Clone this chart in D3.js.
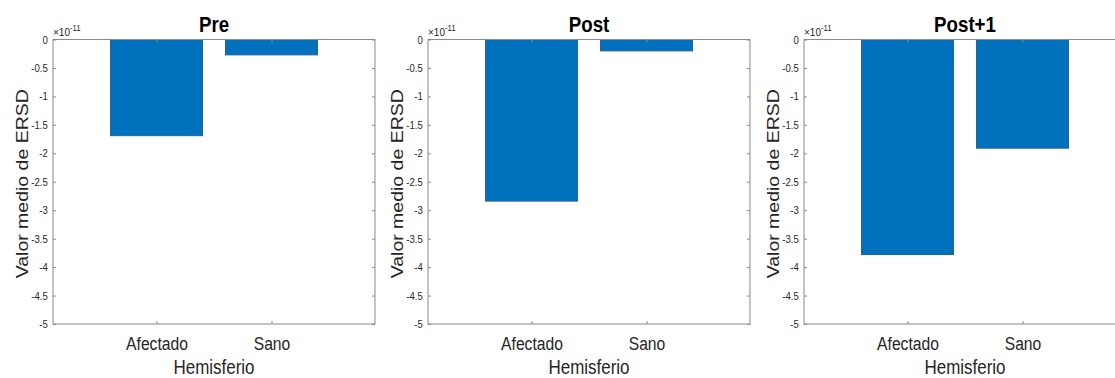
<!DOCTYPE html>
<html>
<head>
<meta charset="utf-8">
<script src="https://cdn.jsdelivr.net/npm/d3@7"></script>
<style>
  html, body { margin: 0; padding: 0; background: #ffffff; }
  svg { display: block; font-family: "Liberation Sans", Arial, Helvetica, sans-serif; }
</style>
</head>
<body>
<svg id="chart" width="1115" height="378"></svg>
<script>
// Mean ERSD per hemisphere, in units of 1e-11
const panelTitles = ["Pre", "Post", "Post+1"];
const categories = ["Afectado", "Sano"];
const afectadoValues = [-1.69, -2.84, -3.78];
const sanoValues = [-0.27, -0.20, -1.91];
const yTickValues = [0, -0.5, -1, -1.5, -2, -2.5, -3, -3.5, -4, -4.5, -5];
const exponent = "-11";
const xLabel = "Hemisferio";
const yLabel = "Valor medio de ERSD";

const svg = d3.select("#chart");
const panelLefts = [53, 428, 804];
const plotW = 322, plotTop = 39.5, plotBottom = 324;
const squeeze = 0.87;           // narrow letterforms
const axisGray = "#8a8a8a";
const textDark = "#262626";
const barFill = "#0072BD";
const barEdge = "#2a5f8f";

panelTitles.forEach((title, p) => {
  const left = panelLefts[p];
  const x = d3.scaleLinear().domain([0.1, 2.9]).range([0, plotW]);
  const y = d3.scaleLinear().domain([-5, 0]).range([plotBottom - plotTop, 0]);
  const h = plotBottom - plotTop;
  const g = svg.append("g").attr("transform", `translate(${left},${plotTop})`);

  const values = [afectadoValues[p], sanoValues[p]];
  const barW = x(0.9) - x(0.1);

  // bars hang down from zero
  g.selectAll("rect.bar").data(values).enter().append("rect")
    .attr("class", "bar")
    .attr("x", (d, i) => x(i + 1) - barW / 2)
    .attr("y", d => y(0))
    .attr("width", barW)
    .attr("height", d => y(d) - y(0))
    .attr("fill", barFill)
    .attr("stroke", barEdge)
    .attr("stroke-width", 1);

  // y axis (left) with inward ticks
  const yAxis = g.append("g")
    .call(d3.axisLeft(y).tickValues(yTickValues).tickSize(-3).tickSizeOuter(0).tickPadding(6)
      .tickFormat(d => d === 0 ? "0" : String(d)));
  yAxis.select(".domain").remove();
  yAxis.selectAll(".tick line").attr("stroke", axisGray);
  yAxis.selectAll(".tick text")
    .attr("fill", textDark).attr("font-size", 11)
    .attr("font-family", "'Liberation Sans', Arial, sans-serif")
    .attr("transform", `scale(${squeeze},1)`);

  // mirrored ticks on the right
  const yRight = g.append("g").attr("transform", `translate(${plotW},0)`)
    .call(d3.axisRight(y).tickValues(yTickValues).tickSize(-3).tickSizeOuter(0).tickFormat(""));
  yRight.select(".domain").remove();
  yRight.selectAll(".tick line").attr("stroke", axisGray);

  // x axis with category labels
  const xAxis = g.append("g").attr("transform", `translate(0,${h})`)
    .call(d3.axisBottom(x).tickValues([1, 2]).tickSize(-3).tickSizeOuter(0).tickPadding(13)
      .tickFormat(d => categories[d - 1]));
  xAxis.select(".domain").remove();
  xAxis.selectAll(".tick line").attr("stroke", axisGray);
  xAxis.selectAll(".tick text")
    .attr("fill", textDark).attr("font-size", 18)
    .attr("font-family", "'Liberation Sans', Arial, sans-serif")
    .attr("transform", `scale(${squeeze},1)`);

  // mirrored ticks on top
  const xTop = g.append("g")
    .call(d3.axisTop(x).tickValues([1, 2]).tickSize(-3).tickSizeOuter(0).tickFormat(""));
  xTop.select(".domain").remove();
  xTop.selectAll(".tick line").attr("stroke", axisGray);

  // box
  g.append("rect")
    .attr("x", 0).attr("y", 0).attr("width", plotW).attr("height", h)
    .attr("fill", "none").attr("stroke", axisGray).attr("stroke-width", 1);

  // exponent marker
  const ex = g.append("g").attr("transform", `translate(0,-4) scale(${squeeze},1)`)
    .append("text").attr("fill", textDark).attr("font-size", 11.5);
  ex.append("tspan").text("\u00d710");
  ex.append("tspan").attr("font-size", 9).attr("dy", -4.5).text(exponent);

  // title
  g.append("g").attr("transform", `translate(${plotW / 2},${32 - plotTop}) scale(${squeeze},1)`)
    .append("text").attr("text-anchor", "middle")
    .attr("font-size", 21.5).attr("font-weight", "bold").attr("fill", "#000")
    .text(title);

  // x label
  g.append("g").attr("transform", `translate(${plotW / 2},${373.5 - plotTop}) scale(${squeeze},1)`)
    .append("text").attr("text-anchor", "middle")
    .attr("font-size", 19.5).attr("fill", textDark)
    .text(xLabel);

  // y label
  g.append("g").attr("transform", `translate(-25.5,${h / 2 + 2}) rotate(-90) scale(1,${squeeze})`)
    .append("text").attr("text-anchor", "middle")
    .attr("font-size", 19.5).attr("fill", textDark)
    .text(yLabel);
});
</script>
</body>
</html>
